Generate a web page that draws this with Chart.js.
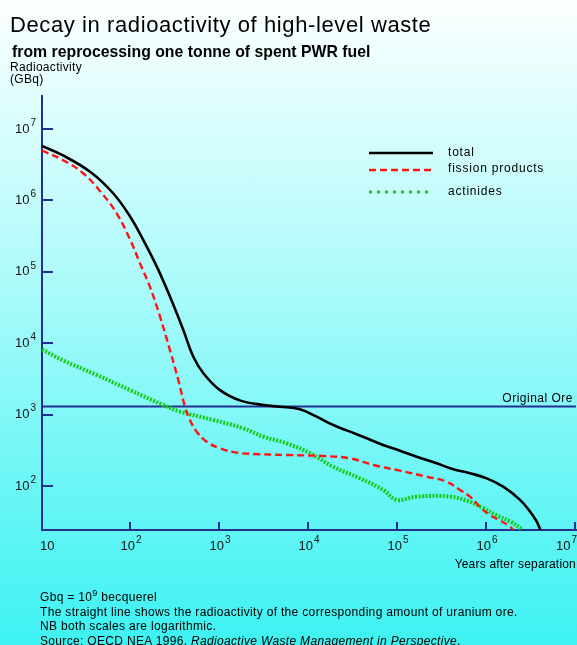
<!DOCTYPE html>
<html><head><meta charset="utf-8">
<script src="https://cdn.jsdelivr.net/npm/chart.js@4/dist/chart.umd.min.js"></script>
<style>
html,body{margin:0;padding:0;}
body{width:577px;height:645px;overflow:hidden;position:relative;
background:linear-gradient(to bottom,#fdffff 0%,#d8fdfd 20%,#a8fafa 46%,#72f6f6 72%,#3ef2f2 100%);
font-family:"Liberation Sans",Arial,Helvetica,sans-serif;color:#000;}
#c{position:absolute;left:0;top:0;}
.t{position:absolute;white-space:nowrap;}
</style></head><body>
<canvas id="c" width="577" height="645"></canvas>
<div class="t" style="left:10px;top:14px;font-size:22px;line-height:22px;letter-spacing:0.6px;">Decay in radioactivity of high-level waste</div>
<div class="t" style="left:12px;top:43px;font-size:17px;line-height:17px;font-weight:bold;transform:scaleX(0.93);transform-origin:0 0;">from reprocessing one tonne of spent PWR fuel</div>
<div class="t" style="left:10px;top:61px;font-size:12px;line-height:12px;letter-spacing:0.3px;">Radioactivity<br>(GBq)</div>
<div class="t" style="left:448px;top:145px;font-size:12px;line-height:14px;letter-spacing:0.8px;">total</div>
<div class="t" style="left:448px;top:161px;font-size:12px;line-height:14px;letter-spacing:0.8px;">fission products</div>
<div class="t" style="left:448px;top:184px;font-size:12px;line-height:14px;letter-spacing:0.8px;">actinides</div>
<div class="t" style="right:4px;top:391px;font-size:12px;line-height:14px;letter-spacing:0.5px;">Original Ore</div>
<div class="t" style="right:1px;top:557px;font-size:12px;line-height:14px;letter-spacing:0.2px;">Years after separation</div>
<div class="t" style="left:40px;top:590px;font-size:12px;line-height:14.5px;letter-spacing:0.33px;">Gbq = 10<sup style="font-size:9px;line-height:0;">9</sup> becquerel<br>The straight line shows the radioactivity of the corresponding amount of uranium ore.<br>NB both scales are logarithmic.<br>Source: OECD NEA 1996, <i>Radioactive Waste Management in Perspective</i>.</div>
<script>
// ---- data (years after separation, GBq) ----
const totalYears = [10, 17, 35, 63, 98, 137, 195, 274, 387, 500, 650, 1000, 1700, 3100, 4700, 7900, 12200, 18700, 29000, 44500, 68000, 105000, 162000, 272000, 400000, 644000, 993000, 1520000, 2350000, 3040000, 3610000, 4000000];
const totalValues = [5.8e6, 4.3e6, 2.5e6, 1.26e6, 5.9e5, 2.8e5, 1.18e5, 4.5e4, 1.53e4, 6.5e3, 3.8e3, 2.2e3, 1.57e3, 1.36e3, 1.29e3, 1.19e3, 935, 714, 577, 466, 375, 312, 257, 208, 175, 151, 128, 98, 64, 44, 32, 24];

const fissionYears = [10, 17, 29, 47, 69, 98, 126, 163, 212, 274, 340, 404, 460, 547, 709, 1000, 1540, 2370, 5610, 14500, 28900, 52800, 105000, 210000, 352000, 498000, 644000, 834000, 1080000, 1400000, 1810000, 1980000];
const fissionValues = [5.0e6, 3.7e6, 2.4e6, 1.26e6, 6.6e5, 2.8e5, 1.32e5, 6.2e4, 2.35e4, 8.0e3, 3.05e3, 1.29e3, 840, 577, 417, 337, 294, 281, 272, 263, 244, 197, 164, 135, 115, 88, 71, 51, 39, 33, 27, 24];

const actinideYears = [10, 17, 41, 98, 231, 356, 841, 1830, 3070, 5610, 10300, 18700, 37400, 68400, 96600, 162000, 384000, 644000, 908000, 1280000, 1810000, 2450000];
const actinideValues = [8.2e3, 5.8e3, 3.6e3, 2.2e3, 1.36e3, 1.1e3, 840, 643, 490, 396, 287, 186, 128, 88, 64, 71, 71, 60, 49, 39, 32, 25];

const oreYears = [10, 1e7];
const oreValues = [1300, 1300];

const xTickValues = [10, 1e2, 1e3, 1e4, 1e5, 1e6, 1e7];
const xTickLabels = ['10', '10²', '10³', '10⁴', '10⁵', '10⁶', '10⁷'];
const yTickValues = [1e2, 1e3, 1e4, 1e5, 1e6, 1e7];
const yTickLabels = ['10²', '10³', '10⁴', '10⁵', '10⁶', '10⁷'];

const seriesNames = ['total', 'fission products', 'actinides', 'Original Ore'];

// ---- styling ----
const NAVY = '#24308f';
const FAMILY = '"Liberation Sans", Arial, sans-serif';
const SUP = {'⁰':'0','¹':'1','²':'2','³':'3','⁴':'4','⁵':'5','⁶':'6','⁷':'7','⁸':'8','⁹':'9'};
const pts = (xs, ys) => xs.map((x, i) => ({x: x, y: ys[i]}));

function splitLabel(label) {
  let base = '', exp = '';
  for (const ch of label) { if (SUP[ch]) exp += SUP[ch]; else base += ch; }
  return [base, exp];
}
// draws "10" with a raised exponent; align: 'left' | 'center' | 'right' for the whole group
function drawPower(ctx, label, x, y, align) {
  const [base, exp] = splitLabel(label);
  ctx.font = '13px ' + FAMILY;
  const wb = ctx.measureText(base).width;
  ctx.font = '10px ' + FAMILY;
  const we = exp ? ctx.measureText(exp).width + 1 : 0;
  const w = wb + we;
  let x0 = align === 'left' ? x : align === 'right' ? x - w : x - w / 2;
  ctx.textAlign = 'left';
  ctx.textBaseline = 'middle';
  ctx.font = '13px ' + FAMILY;
  ctx.fillText(base, x0, y);
  if (exp) {
    ctx.font = '10px ' + FAMILY;
    ctx.fillText(exp, x0 + wb + 1, y - 6);
  }
}

const deco = {
  id: 'deco',
  afterDatasetsDraw(chart) {
    const {ctx, chartArea: a, scales: {x, y}} = chart;
    ctx.save();
    ctx.strokeStyle = NAVY;
    ctx.lineWidth = 2;
    ctx.setLineDash([]);
    ctx.beginPath();
    yTickValues.forEach(v => {
      const py = Math.round(y.getPixelForValue(v));
      ctx.moveTo(a.left, py); ctx.lineTo(a.left + 11, py);
    });
    xTickValues.slice(1).forEach(v => {
      const px = Math.round(x.getPixelForValue(v)) - 1;
      ctx.moveTo(px, a.bottom); ctx.lineTo(px, a.bottom - 8);
    });
    ctx.stroke();
    // tick labels from the scales
    ctx.fillStyle = '#111';
    yTickValues.forEach((v, i) => drawPower(ctx, yTickLabels[i], a.left - 6, y.getPixelForValue(v), 'right'));
    xTickValues.forEach((v, i) => {
      const px = x.getPixelForValue(v);
      const al = i === 0 ? 'left' : i === xTickValues.length - 1 ? 'right' : 'center';
      drawPower(ctx, xTickLabels[i], i === 0 ? px - 2 : px + (al === 'right' ? 1 : 0), a.bottom + 16, al);
    });
    // legend samples, styled from the datasets
    const rows = [153, 170, 192];
    chart.data.datasets.slice(0, 3).forEach((ds, i) => {
      ctx.beginPath();
      ctx.strokeStyle = ds.borderColor;
      ctx.lineWidth = i === 2 ? 3 : ds.borderWidth;
      ctx.setLineDash(i === 2 ? [3, 5] : (ds.borderDash || []));
      ctx.moveTo(369, rows[i]); ctx.lineTo(433, rows[i]);
      ctx.stroke();
    });
    ctx.restore();
  }
};

new Chart(document.getElementById('c'), {
  type: 'line',
  data: {
    datasets: [
      {label: seriesNames[0], data: pts(totalYears, totalValues), borderColor: '#000000', borderWidth: 2.6, tension: 0.4},
      {label: seriesNames[1], data: pts(fissionYears, fissionValues), borderColor: '#ff1414', borderWidth: 2.4, borderDash: [7, 4], tension: 0.4},
      {label: seriesNames[2], data: pts(actinideYears, actinideValues), borderColor: '#16cc16', borderWidth: 4, borderDash: [2, 1.5], tension: 0.4},
      {label: seriesNames[3], data: pts(oreYears, oreValues), borderColor: NAVY, borderWidth: 2, tension: 0}
    ]
  },
  options: {
    responsive: false,
    animation: false,
    layout: {padding: {left: 0, right: 1, top: 96, bottom: 85}},
    elements: {point: {radius: 0, hoverRadius: 0}},
    plugins: {legend: {display: false}, tooltip: {enabled: false}},
    scales: {
      x: {
        type: 'logarithmic', min: 10, max: 1e7,
        afterBuildTicks: s => { s.ticks = xTickValues.map(v => ({value: v})); },
        afterFit: s => { s.height = 30; s.paddingLeft = 0; s.paddingRight = 0; },
        grid: {display: false, drawTicks: false},
        border: {display: true, color: NAVY, width: 2},
        ticks: {display: false, callback: (v, i) => xTickLabels[i]}
      },
      y: {
        type: 'logarithmic', min: 24.2, max: 2.9e7,
        afterBuildTicks: s => { s.ticks = yTickValues.map(v => ({value: v})); },
        afterFit: s => { s.width = 42; },
        grid: {display: false, drawTicks: false},
        border: {display: true, color: NAVY, width: 2},
        ticks: {display: false, callback: (v, i) => yTickLabels[i]}
      }
    }
  },
  plugins: [deco]
});
</script>
</body></html>
